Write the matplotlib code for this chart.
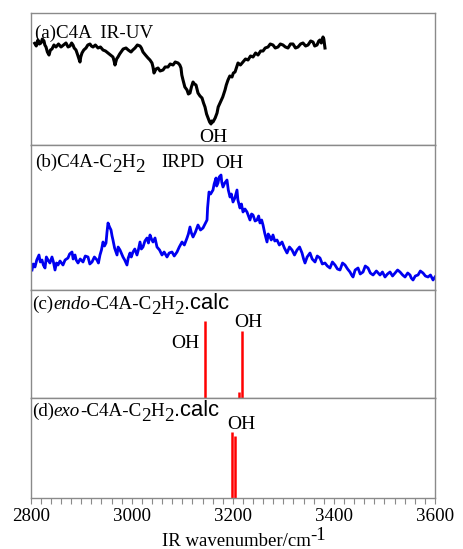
import matplotlib
matplotlib.use("Agg")
import matplotlib.pyplot as plt
import matplotlib.transforms as mtransforms
from matplotlib.ticker import MultipleLocator

# ---------------- data ----------------
# (a) C4A IR-UV (black trace)
wn_a = [2807.9, 2811, 2814.4, 2817, 2820.4, 2823, 2826.3, 2828, 2830.3, 2833,
        2836.2, 2839, 2842.1, 2846, 2850.0, 2855, 2860.0, 2865, 2869.8, 2874,
        2877.8, 2881, 2883.7, 2886, 2889.6, 2893, 2897.5, 2899, 2901.5, 2905,
        2909.4, 2913, 2917.3, 2920, 2923.3, 2928, 2933.2, 2938, 2943.1, 2948,
        2953.0, 2958, 2962.8, 2965, 2966.8, 2970, 2972.7, 2976, 2978.7, 2983,
        2988.6, 2993, 2998.5, 3002, 3006.4, 3011, 3016.3, 3019, 3022.2, 3027,
        3032.1, 3036, 3040.0, 3042, 3044.0, 3048, 3051.9, 3056, 3061.8, 3066,
        3071.7, 3076, 3081.6, 3086, 3091.5, 3095, 3097.4, 3099, 3101.4, 3105,
        3109.3, 3112, 3115.2, 3118, 3121.2, 3124, 3127.1, 3129, 3131.0, 3135,
        3139.0, 3142, 3144.9, 3148, 3150.9, 3154, 3156.8, 3158, 3160.7, 3165,
        3168.7, 3171, 3174.6, 3180, 3184.5, 3187, 3190.4, 3194, 3198.3, 3201,
        3204.3, 3207, 3210.2, 3215, 3220.1, 3225, 3230.0, 3235, 3239.9, 3245,
        3249.8, 3255, 3259.7, 3264, 3269.6, 3274, 3279.4, 3284, 3289.3, 3294,
        3299.2, 3304, 3309.1, 3314, 3319.0, 3324, 3328.9, 3334, 3338.8, 3344,
        3348.7, 3354, 3358.6, 3362, 3366.5, 3370, 3372.4, 3375, 3378.4, 3380,
        3382.3]
int_a = [101.7, 99, 105, 101, 102, 106, 104, 100, 98, 93,
         90, 95, 96, 100, 98, 101, 98, 100, 102, 98,
         99, 102, 100, 97, 95, 90, 83, 88, 92, 95,
         97, 100, 101, 99, 98, 100, 97, 98, 95, 94,
         92, 90, 88, 84, 80, 86, 88, 91, 93, 96,
         97, 95, 93, 95, 97, 100, 99, 97, 93, 90,
         87, 85, 82, 78, 72, 76, 77, 74, 75, 78,
         78, 81, 80, 83, 82, 80, 77, 70, 65, 58,
         55, 51, 52, 58, 63, 61, 60, 56, 52, 49,
         47, 42, 38, 31, 27, 23, 21, 24, 23, 27,
         32, 38, 42, 48, 55, 60, 65, 69, 68, 72,
         73, 77, 82, 80, 83, 86, 85, 89, 88, 92,
         90, 94, 94, 97, 98, 101, 100, 97, 98, 101,
         100, 98, 97, 101, 101, 97, 98, 101, 102, 99,
         100, 104, 103, 99, 100, 104, 105, 102, 108, 106,
         97]

# (b) C4A-C2H2 IRPD (blue trace)
wn_b = [2802.6, 2805, 2808.5, 2812, 2816.4, 2819, 2822.4, 2825, 2828.3, 2831,
        2834.2, 2838, 2842.1, 2845, 2848.1, 2851, 2854.0, 2858, 2863.9, 2868,
        2873.8, 2877, 2881.7, 2884, 2887.7, 2890, 2893.6, 2898, 2903.5, 2908,
        2913.4, 2917, 2921.3, 2926, 2931.2, 2934, 2937.1, 2940, 2943.1, 2946,
        2949.0, 2951, 2953.0, 2956, 2958.9, 2961, 2962.8, 2966, 2970.8, 2973,
        2976.7, 2980, 2982.6, 2986, 2990.5, 2993, 2996.5, 2999, 3002.4, 3006,
        3010.3, 3013, 3016.3, 3019, 3022.2, 3026, 3030.1, 3033, 3036.1, 3039,
        3042.0, 3046, 3049.9, 3055, 3059.8, 3064, 3069.7, 3074, 3079.6, 3084,
        3089.5, 3094, 3099.4, 3104, 3109.3, 3112, 3115.2, 3118, 3121.2, 3126,
        3131.0, 3136, 3140.9, 3145, 3148.9, 3150, 3152.8, 3156, 3160.7, 3163,
        3166.7, 3168, 3170.6, 3173, 3176.6, 3178, 3180.5, 3184, 3188.4, 3191,
        3194.4, 3197, 3200.3, 3204, 3208.2, 3210, 3214.1, 3217, 3220.1, 3224,
        3228.0, 3231, 3233.9, 3237, 3239.9, 3244, 3247.8, 3251, 3253.7, 3257,
        3259.7, 3263, 3267.6, 3270, 3273.5, 3276, 3279.4, 3283, 3287.4, 3292,
        3297.3, 3302, 3307.2, 3312, 3317.1, 3322, 3327.0, 3332, 3336.9, 3340,
        3342.8, 3347, 3352.7, 3357, 3362.6, 3367, 3372.4, 3377, 3382.3, 3387,
        3392.2, 3397, 3402.1, 3407, 3412.0, 3417, 3421.9, 3427, 3431.8, 3435,
        3437.8, 3442, 3447.7, 3452, 3457.6, 3462, 3467.5, 3472, 3477.4, 3484,
        3491.2, 3496, 3501.1, 3506, 3511.0, 3516, 3520.9, 3526, 3530.8, 3536,
        3540.7, 3546, 3550.6, 3553, 3556.5, 3561, 3566.4, 3571, 3576.3, 3581,
        3586.2, 3591, 3596.1, 3600.0]
int_b = [20, 26, 23, 30, 35, 28, 30, 25, 22, 33,
         30, 27, 33, 28, 20, 27, 25, 29, 25, 30,
         32, 36, 38, 31, 35, 30, 27, 31, 28, 34,
         33, 26, 28, 33, 30, 27, 35, 40, 48, 44,
         47, 58, 67, 63, 60, 54, 50, 42, 35, 43,
         40, 36, 33, 30, 25, 32, 37, 33, 38, 41,
         35, 40, 48, 41, 43, 49, 52, 47, 55, 51,
         48, 52, 43, 40, 35, 38, 33, 37, 38, 34,
         38, 43, 48, 45, 52, 56, 63, 57, 53, 58,
         65, 60, 62, 66, 70, 82, 98, 96, 100, 106,
         112, 104, 107, 113, 115, 108, 103, 107, 110, 100,
         93, 96, 88, 92, 100, 90, 82, 86, 78, 81,
         78, 74, 70, 76, 75, 69, 70, 74, 67, 70,
         65, 57, 48, 56, 53, 50, 55, 49, 50, 45,
         48, 42, 37, 43, 40, 35, 40, 43, 37, 31,
         27, 33, 37, 31, 28, 34, 32, 26, 27, 24,
         22, 28, 25, 21, 20, 27, 25, 21, 18, 15,
         13, 20, 22, 16, 18, 24, 22, 17, 15, 19,
         15, 18, 13, 16, 18, 14, 17, 20, 18, 15,
         13, 17, 15, 12, 10, 14, 15, 19, 17, 14,
         13, 15, 10, 13]

# (c) endo calc sticks
wn_c = [3144.5, 3212.5, 3218.5]
int_c = [77, 6, 67]

# (d) exo calc sticks
wn_d = [3198.7, 3205.0]
int_d = [66, 62]

xticks = [2800, 3000, 3200, 3400, 3600]

# ---------------- figure ----------------
W, H = 463, 549
fig = plt.figure(figsize=(W / 100, H / 100), dpi=100)
SERIF = "Liberation Serif"
SANS = "Liberation Sans"
FS = 13.7
GRAY = "#8a8a8a"

left = 30.7 / W
width = (435 - 30.7) / W
bounds = [12.7, 145, 290, 397.7, 497.7]
axes = []
for i in range(4):
    top = 1 - bounds[i] / H
    bot = 1 - bounds[i + 1] / H
    ax = fig.add_axes([left, bot, width, top - bot])
    ax.set_xlim(2800, 3600)
    ax.set_ylim(0, bounds[i + 1] - bounds[i])
    for sp in ax.spines.values():
        sp.set_color(GRAY)
        sp.set_linewidth(1.0)
    ax.set_yticks([])
    axes.append(ax)

ax_a, ax_b, ax_c, ax_d = axes
for ax in (ax_a, ax_b, ax_c):
    ax.set_xticks([])

ax_a.plot(wn_a, int_a, color="black", lw=2.2, solid_joinstyle="round")
ax_b.plot(wn_b, int_b, color="#0000f0", lw=2.0, solid_joinstyle="round")
ax_c.vlines(wn_c, 0, int_c, color="#ff0000", lw=1.8)
ax_d.vlines(wn_d, 0, int_d, color="#ff0000", lw=1.8)

ax_d.set_xticks(xticks)
ax_d.xaxis.set_minor_locator(MultipleLocator(20))
ax_d.tick_params(axis="x", which="both", direction="out", length=4.3, width=0.8,
                 color=GRAY, pad=3)
ax_d.set_xticklabels([str(t) for t in xticks], fontfamily=SERIF, fontsize=FS)

# ---------------- rich text helper ----------------
renderer = fig.canvas.get_renderer()
ident = mtransforms.IdentityTransform()


def rich(x, y, pieces, transform):
    x0, y0 = transform.transform((x, y))
    for s, kw, dy in pieces:
        t = fig.text(x0, y0 + dy * fig.dpi / 72, s, transform=ident,
                     va="baseline", ha="left", **kw)
        x0 = t.get_window_extent(renderer).x1


rm = dict(fontfamily=SERIF, fontsize=FS)
it = dict(fontfamily=SERIF, fontsize=FS, fontstyle="italic")
sans = dict(fontfamily=SANS, fontsize=15.8)
SUB = -3.6

rich(2808.5, 107.3, [("(a)C4A  IR-UV", rm, 0)], ax_a.transData)
ax_a.text(3160.7, 3.3, "OH", ha="center", va="baseline", fontfamily=SERIF, fontsize=14)

rich(2808.5, 122.7, [("(b)C4A-C", rm, 0), ("2", rm, SUB), ("H", rm, 0), ("2", rm, SUB)],
     ax_b.transData)
ax_b.text(3058.4, 122.7, "IRPD", ha="left", va="baseline", fontfamily=SERIF, fontsize=FS)
ax_b.text(3193.7, 122, "OH", ha="center", va="baseline", fontfamily=SERIF, fontsize=14)

rich(2802.6, 88.4, [("(c)", rm, 0), ("endo", it, 0), ("-C4A-C", rm, 0), ("2", rm, SUB),
                    ("H", rm, 0), ("2", rm, SUB), (".calc", sans, 0)], ax_c.transData)
ax_c.text(3105.3, 50, "OH", ha="center", va="baseline", fontfamily=SERIF, fontsize=14)
ax_c.text(3230.6, 71, "OH", ha="center", va="baseline", fontfamily=SERIF, fontsize=14)

rich(2802.0, 82, [("(d)", rm, 0), ("exo", it, 0), ("-C4A-C", rm, 0), ("2", rm, SUB),
                  ("H", rm, 0), ("2", rm, SUB), (".calc", sans, 0)], ax_d.transData)
ax_d.text(3217.5, 68.7, "OH", ha="center", va="baseline", fontfamily=SERIF, fontsize=14)

# x-axis label at the bottom edge
rich(161.7 / W, 1 - 546.5 / H, [("IR wavenumber/cm", dict(fontfamily=SERIF, fontsize=13.5), 0),
                                ("-1", dict(fontfamily=SERIF, fontsize=13.5), 4.5)],
     fig.transFigure)

fig.savefig("out.png", dpi=100)
